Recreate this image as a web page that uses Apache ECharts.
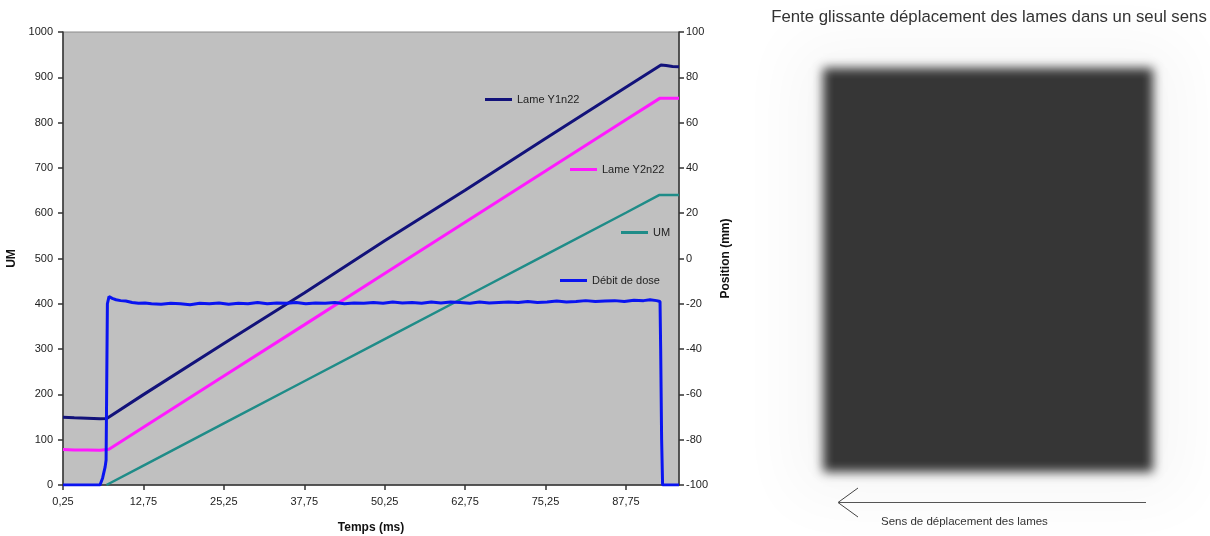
<!DOCTYPE html>
<html><head><meta charset="utf-8">
<script src="https://cdn.jsdelivr.net/npm/echarts@6/dist/echarts.min.js"></script>
<style>html,body{margin:0;padding:0;background:#fff}#c{width:1210px;height:536px}</style>
</head><body><div id="c"></div>
<script>
// ---- axis definitions ----
const xTickStart = 0.25, xTickStep = 12.5, xMax = 96;
const umTicks = { min: 0, max: 1000, step: 100 };
const posTicks = { min: -100, max: 100, step: 20 };

// ---- Lame Y1n22 (mm, right axis) ----
const y1Times  = [0.25, 2, 4, 6, 7.05, 12.75, 25.25, 37.75, 50.25, 62.75, 75.25, 87.75, 93.2, 94, 95, 96];
const y1Values = [-70.1, -70.3, -70.5, -70.7, -70.6, -60.1, -37.5, -15.2, 7.8, 30.1, 53.0, 75.6, 85.4, 85.2, 84.8, 84.7];

// ---- Lame Y2n22 (mm, right axis) ----
const y2Times  = [0.25, 2, 4, 6, 7.4, 12.75, 25.25, 37.75, 50.25, 62.75, 75.25, 87.75, 93.0, 94.5, 96];
const y2Values = [-84.3, -84.6, -84.5, -84.7, -84.2, -74.5, -51.9, -29.3, -6.6, 16.0, 38.6, 61.3, 70.7, 70.8, 70.8];

// ---- UM (left axis) ----
const umTimes  = [7.0, 12.75, 25.25, 37.75, 50.25, 62.75, 75.25, 87.75, 92.9, 94.5, 96];
const umValues = [0, 43, 136, 229, 322, 415, 508, 601, 640, 640, 640];

// ---- Débit de dose (left axis) ----
const doseTimes  = [0.25, 6.0, 6.4, 6.8, 6.95, 7.05, 7.15, 7.4, 7.9, 8.5, 9.2, 10, 11, 12, 13, 14, 15.5, 17, 18.5, 20, 21.5, 23, 24.5, 26, 27.5, 29, 30.5, 32, 33.5, 35, 36.5, 38, 39.5, 41, 42.5, 44, 45.5, 47, 48.5, 50, 51.5, 53, 54.5, 56, 57.5, 59, 60.5, 62, 63.5, 65, 66.5, 68, 69.5, 71, 72.5, 74, 75.5, 77, 78.5, 80, 81.5, 83, 84.5, 86, 87.5, 89, 90.5, 91.5, 92.5, 93.05, 93.15, 93.3, 93.45, 96];
const doseValues = [0, 0, 15, 40, 55, 230, 400, 416, 412, 409, 407, 406, 403, 401, 402, 400, 399, 401, 400, 398, 401, 400, 402, 399, 401, 400, 403, 400, 402, 401, 403, 400, 402, 401, 403, 400, 402, 401, 403, 401, 404, 402, 403, 401, 404, 402, 404, 403, 401, 404, 402, 403, 404, 403, 405, 403, 404, 406, 404, 405, 407, 405, 406, 407, 405, 408, 407, 409, 407, 405, 300, 100, 0, 0];

const seriesNames = ['Lame Y1n22', 'Lame Y2n22', 'UM', 'Débit de dose'];
const titleText = 'Fente glissante déplacement des lames dans un seul sens';
const arrowText = 'Sens de déplacement des lames';

const zip = (t, v) => t.map((x, i) => [x, v[i]]);
const FONT = '"Liberation Sans", Arial, sans-serif';
const fmt = v => String(Math.round(v * 100) / 100).replace('.', ',');
const plain = v => String(v);

const chart = echarts.init(document.getElementById('c'), null, { renderer: 'canvas' });

const legendBase = {
  orient: 'vertical', icon: 'rect', itemWidth: 27, itemHeight: 3,
  textStyle: { fontSize: 11, color: '#222', fontFamily: FONT }, padding: 0
};

const RX = 823, RY = 68, RW = 330, RH = 404, OFF = 4000;

chart.setOption({
  animation: false,
  backgroundColor: '#ffffff',
  textStyle: { fontFamily: FONT },
  grid: { left: 63, right: 531, top: 32, bottom: 51, outerBoundsMode: 'none', containLabel: false,
          show: true, backgroundColor: '#c0c0c0', borderColor: '#8a8a8a', borderWidth: 1 },
  legend: [
    Object.assign({}, legendBase, { data: [seriesNames[0]], left: 485, top: 94 }),
    Object.assign({}, legendBase, { data: [seriesNames[1]], left: 570, top: 164 }),
    Object.assign({}, legendBase, { data: [seriesNames[2]], left: 621, top: 227 }),
    Object.assign({}, legendBase, { data: [seriesNames[3]], left: 560, top: 275 })
  ],
  xAxis: {
    type: 'value', min: xTickStart, max: xMax, interval: xTickStep,
    name: 'Temps (ms)', nameLocation: 'middle', nameGap: 37,
    nameTextStyle: { fontWeight: 'bold', fontSize: 12, color: '#111', fontFamily: FONT },
    axisLine: { lineStyle: { color: '#333', width: 1.5 } },
    axisTick: { length: 5, lineStyle: { color: '#333', width: 1.5 } },
    axisLabel: { color: '#222', fontSize: 11, margin: 11, formatter: fmt, showMaxLabel: false, showMinLabel: true },
    splitLine: { show: false }
  },
  yAxis: [
    {
      type: 'value', position: 'left', min: umTicks.min, max: umTicks.max, interval: umTicks.step,
      name: 'UM', nameLocation: 'middle', nameGap: 40,
      nameTextStyle: { fontWeight: 'bold', fontSize: 12, color: '#111', fontFamily: FONT },
      axisLine: { show: true, lineStyle: { color: '#333', width: 1.5 } },
      axisTick: { show: true, length: 5, lineStyle: { color: '#333', width: 1.5 } },
      axisLabel: { color: '#222', fontSize: 11, margin: 10, formatter: plain },
      splitLine: { show: false }
    },
    {
      type: 'value', position: 'right', min: posTicks.min, max: posTicks.max, interval: posTicks.step,
      name: 'Position (mm)', nameLocation: 'middle', nameGap: 41,
      nameTextStyle: { fontWeight: 'bold', fontSize: 12, color: '#111', fontFamily: FONT },
      axisLine: { show: true, lineStyle: { color: '#333', width: 1.5 } },
      axisTick: { show: true, length: 5, lineStyle: { color: '#333', width: 1.5 } },
      axisLabel: { color: '#222', fontSize: 11, margin: 7, formatter: plain },
      splitLine: { show: false }
    }
  ],
  series: [
    { name: seriesNames[0], type: 'line', yAxisIndex: 1, data: zip(y1Times, y1Values), showSymbol: false, color: '#12127a', lineStyle: { width: 3 } },
    { name: seriesNames[1], type: 'line', yAxisIndex: 1, data: zip(y2Times, y2Values), showSymbol: false, color: '#ff1aff', lineStyle: { width: 3 } },
    { name: seriesNames[2], type: 'line', yAxisIndex: 0, data: zip(umTimes, umValues), showSymbol: false, color: '#1f8c88', lineStyle: { width: 2.5 } },
    { name: seriesNames[3], type: 'line', yAxisIndex: 0, data: zip(doseTimes, doseValues), showSymbol: false, color: '#0a14f0', lineStyle: { width: 3 } }
  ],
  graphic: [
    // soft halo
    { type: 'rect', silent: true, shape: { x: RX - 30 - OFF, y: RY - 25, width: RW + 60, height: RH + 50 },
      style: { fill: '#000', shadowBlur: 60, shadowColor: 'rgba(0,0,0,0.035)', shadowOffsetX: OFF } },
    // blurred dark field
    { type: 'rect', silent: true, shape: { x: RX - OFF, y: RY, width: RW, height: RH },
      style: { fill: '#353535', shadowBlur: 10, shadowColor: '#363636', shadowOffsetX: OFF } },
    { type: 'text', silent: true, x: 989, y: 17,
      style: { text: titleText, fontSize: 16.8, fontFamily: FONT, fill: '#333', align: 'center', verticalAlign: 'middle' } },
    { type: 'line', silent: true, shape: { x1: 839, y1: 502.5, x2: 1146, y2: 502.5 }, style: { stroke: '#555', lineWidth: 1.2 } },
    { type: 'polyline', silent: true, shape: { points: [[858, 488], [838, 502.5], [858, 517]] }, style: { stroke: '#444', lineWidth: 1, fill: null } },
    { type: 'text', silent: true, x: 881, y: 522,
      style: { text: arrowText, fontSize: 11.5, fontFamily: FONT, fill: '#333', align: 'left', verticalAlign: 'middle' } }
  ]
});
</script>
</body></html>
